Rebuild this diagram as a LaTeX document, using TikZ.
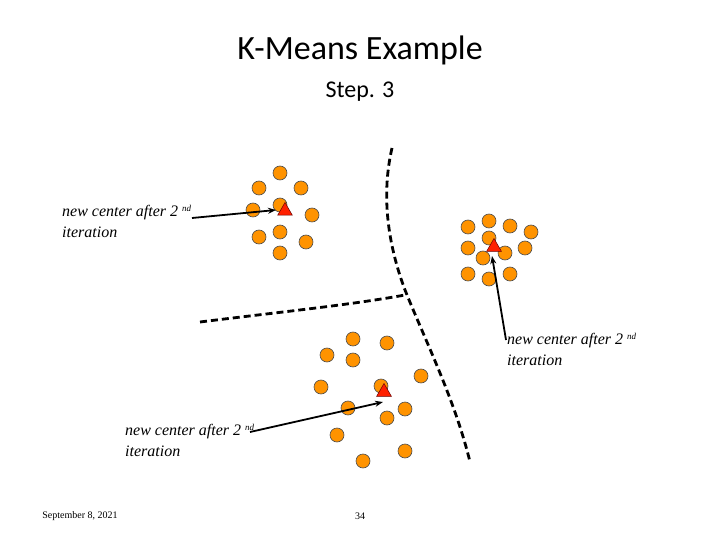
\documentclass[tikz,border=0pt]{standalone}
\usepackage{fontspec}
\usetikzlibrary{shapes.geometric,arrows.meta}
\setmainfont{Liberation Serif}
\newfontfamily\calfont{Carlito}
\begin{document}
\begin{tikzpicture}[x=1pt,y=-1pt,
  pt/.style={circle,draw=black!70,line width=0.6pt,fill=orange!85!yellow,inner sep=0pt,minimum size=14pt},
  ctr/.style={regular polygon,regular polygon sides=3,draw=black!60!red,line width=0.5pt,fill=red!75!orange,inner sep=0pt,minimum size=17pt},
  bnd/.style={line width=2.8pt,dash pattern=on 7pt off 4pt},
  arr/.style={-{Stealth[length=8pt]},line width=1.8pt},
  lab/.style={font=\fontsize{16}{21}\selectfont\itshape,align=left,anchor=north west,inner sep=0pt}]
\useasboundingbox (0,0) rectangle (720,540);
\node (title) at (360,50) {\calfont\fontsize{34}{38}\selectfont K-Means Example};
\node (step) at (360,92) {\calfont\fontsize{24}{28}\selectfont Step. 3};
\draw[bnd] (392,148) .. controls (380,200) and (390,250) .. (405,290) .. controls (425,340) and (455,400) .. (470,462);
\draw[bnd] (200,322) .. controls (280,312) and (350,305) .. (405,295);
\foreach \x/\y [count=\i] in {280/173,259/188,301/188,253/210,280/205,312/215,259/237,280/232,306/242,280/253}
  \node[pt] (a\i) at (\x,\y) {};
\foreach \x/\y [count=\i] in {468/227,489/221,510/226,531/232,468/248,489/238,525/248,483/258,505/253,468/274,489/279,510/274}
  \node[pt] (b\i) at (\x,\y) {};
\foreach \x/\y [count=\i] in {353/339,387/343,327/355,353/360,321/387,381/386,421/376,348/408,405/409,387/418,337/435,405/451,363/461}
  \node[pt] (c\i) at (\x,\y) {};
\node[ctr] (ca) at (285,211) {};
\node[ctr] (cb) at (494,247) {};
\node[ctr] (cc) at (384,392) {};
\node[lab] (la) at (62,205) {new center after 2 \raisebox{5pt}{\fontsize{9}{9}\selectfont nd}\\iteration};
\node[lab] (lb) at (507,333) {new center after 2 \raisebox{5pt}{\fontsize{9}{9}\selectfont nd}\\iteration};
\node[lab] (lc) at (125,424) {new center after 2 \raisebox{5pt}{\fontsize{9}{9}\selectfont nd}\\iteration};
\coordinate (sa) at (192,218);
\coordinate (sb) at (506,340);
\coordinate (sc) at (250,432);
\draw[arr] (sa) -- (276,210);
\draw[arr] (sb) -- (492,256);
\draw[arr] (sc) -- (383,402);
\node (date) at (80,516) {\fontsize{10}{12}\selectfont September 8, 2021};
\node (page) at (360,516) {\fontsize{10}{12}\selectfont 34};
\end{tikzpicture}
\end{document}
